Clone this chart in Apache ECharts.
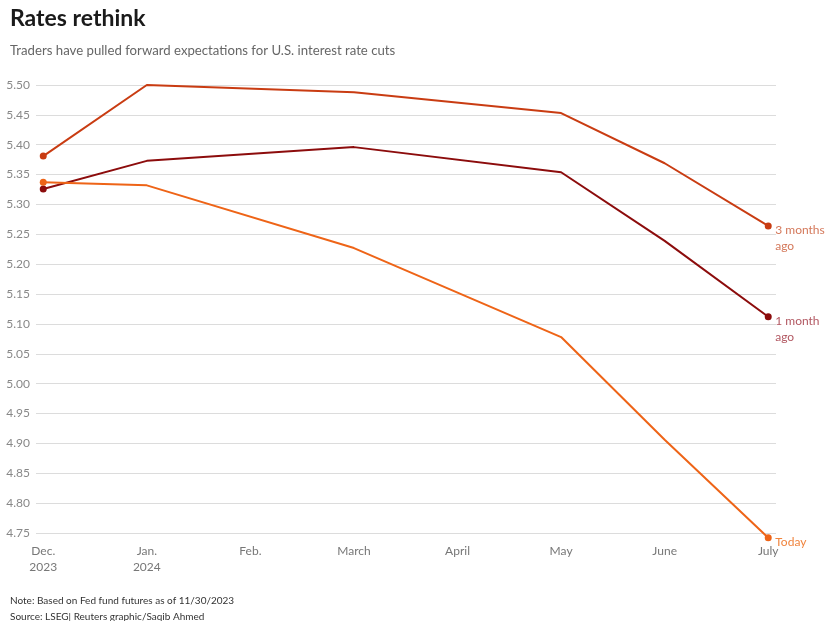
<!DOCTYPE html>
<html>
<head>
<meta charset="utf-8">
<script src="https://cdn.jsdelivr.net/npm/echarts@6/dist/echarts.min.js"></script>
<style>
  html, body { margin: 0; padding: 0; background: #fff; }
  #chart { width: 825px; height: 621px; }
</style>
</head>
<body>
<div id="chart"></div>
<script>
// Month labels along the x axis (Fed meeting months)
const months = ['Dec.\n2023', 'Jan.\n2024', 'Feb.', 'March', 'April', 'May', 'June', 'July'];

// Implied fed funds rate by meeting month; null = no meeting that month
const threeMonthsAgo = [5.381, 5.500, null, 5.488, null, 5.453, 5.369, 5.264];
const oneMonthAgo    = [5.326, 5.373, null, 5.396, null, 5.354, 5.239, 5.112];
const today          = [5.337, 5.332, null, 5.227, null, 5.078, 4.906, 4.742];

// Y axis ticks
const yMin = 4.75, yMax = 5.50, yStep = 0.05;

const FONT = 'Lato, "Noto Sans", sans-serif';

function toPoints(values) {
  const pts = [];
  values.forEach((v, i) => { if (v !== null) pts.push([i, v]); });
  return pts;
}

function lineSeries(name, values, color, labelText, labelColor, offsetY) {
  const pts = toPoints(values);
  return {
    name: name,
    type: 'line',
    data: pts,
    clip: false,
    lineStyle: { color: color, width: 2 },
    itemStyle: { color: color },
    symbol: 'circle',
    // dots only at the first and last meeting
    symbolSize: (val, params) => (params.dataIndex === 0 || params.dataIndex === pts.length - 1) ? 7 : 0,
    showSymbol: true,
    endLabel: {
      show: true,
      formatter: labelText,
      color: labelColor,
      fontFamily: FONT,
      fontSize: 12,
      lineHeight: 16,
      distance: 7,
      offset: [0, offsetY]
    },
    emphasis: { disabled: true },
    animation: false
  };
}

const chart = echarts.init(document.getElementById('chart'), null, { renderer: 'canvas' });

chart.setOption({
  backgroundColor: '#fff',
  animation: false,
  title: [
    {
      text: 'Rates rethink',
      left: 10, top: 7, padding: 0,
      textStyle: { fontFamily: FONT, fontSize: 23, fontWeight: 'bold', color: '#1a1a1a' }
    },
    {
      text: 'Traders have pulled forward expectations for U.S. interest rate cuts',
      left: 10, top: 44, padding: 0,
      textStyle: { fontFamily: FONT, fontSize: 13.2, fontWeight: 'normal', color: '#666' }
    },
    {
      text: 'Note: Based on Fed fund futures as of 11/30/2023\nSource: LSEG| Reuters graphic/Saqib Ahmed',
      left: 10, top: 593, padding: 0,
      textStyle: { fontFamily: FONT, fontSize: 10, fontWeight: 'normal', color: '#333', lineHeight: 16 }
    }
  ],
  grid: { left: 36, right: 49, top: 85, bottom: 88, containLabel: false },
  xAxis: {
    type: 'value',
    min: -0.07,
    max: 7.075,
    axisLine: { show: false },
    axisTick: { show: false },
    splitLine: { show: false },
    axisLabel: {
      customValues: months.map((m, i) => i),
      formatter: v => months[Math.round(v)],
      color: '#777',
      fontFamily: FONT,
      fontSize: 12,
      lineHeight: 16,
      margin: 10
    }
  },
  yAxis: {
    type: 'value',
    min: yMin,
    max: yMax,
    interval: yStep,
    axisLine: { show: false },
    axisTick: { show: false },
    splitLine: { lineStyle: { color: '#dcdcdc', width: 1 } },
    axisLabel: {
      formatter: v => v.toFixed(2),
      color: '#888',
      fontFamily: FONT,
      fontSize: 12,
      margin: 6
    }
  },
  series: [
    lineSeries('3 months ago', threeMonthsAgo, '#c93c12', '3 months\nago', '#d4785a', 12),
    lineSeries('1 month ago', oneMonthAgo, '#8c0c0c', '1 month\nago', '#b25862', 12),
    lineSeries('Today', today, '#ee6417', 'Today', '#f0843e', 4)
  ]
});
</script>
</body>
</html>
